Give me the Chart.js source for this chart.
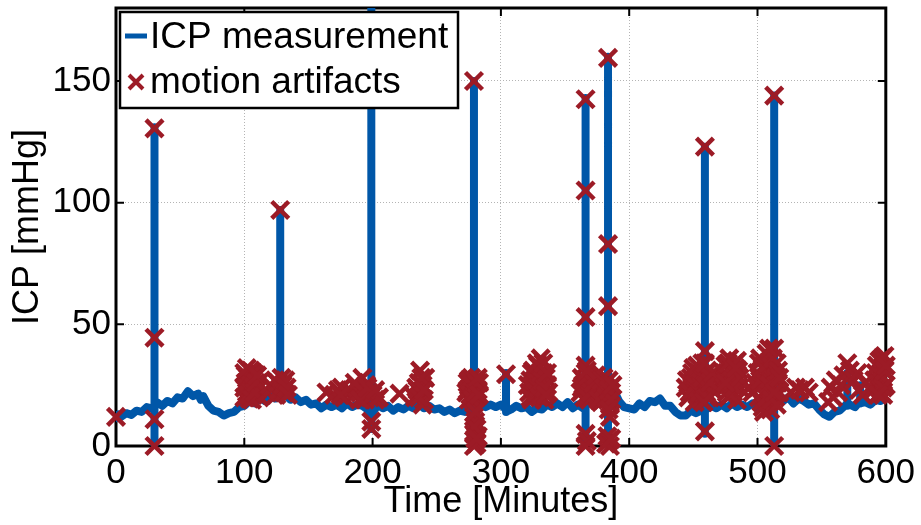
<!DOCTYPE html>
<html lang="en">
<head>
<meta charset="UTF-8">
<title>ICP measurement</title>
<script src="https://cdn.jsdelivr.net/npm/chart.js"></script>
<style>
    html, body { margin: 0; padding: 0; background: #fff; }
    .chart-box { width: 921px; height: 525px; }
</style>
</head>
<body>
<div class="chart-box">
    <canvas id="icpChart" width="921" height="525"></canvas>
</div>
<script>
    // ICP trace (minutes, mmHg); repeated times are the vertical spikes
    const timeMin = [
        0, 2, 4, 8, 12, 16, 20, 24, 28,
        30, 30, 30, 30,
        32, 36, 40, 44, 48, 52, 56, 60, 64, 66, 68, 72, 76, 80, 84, 88, 92, 96, 100, 104, 108, 112, 116, 120, 124, 128,
        128, 128,
        132, 136, 140, 144, 148, 152, 156, 160, 164, 168, 172, 176, 180, 184, 188, 192, 196, 199,
        199, 199, 199,
        200, 204, 208, 212, 216, 220, 224, 228, 232, 236, 240, 244, 248, 252, 256, 260, 264, 268, 272, 276, 279,
        279, 279, 279,
        280, 284, 288, 292, 296, 300, 304,
        304, 304,
        308, 312, 316, 320, 324, 328, 332, 336, 340, 344, 348, 352, 356, 360, 364, 366,
        366, 366, 366,
        368, 372, 376, 380, 383.5,
        383.5, 383.5, 383.5,
        388, 392, 396, 400, 404, 408, 412, 416, 420, 424, 428, 432, 436, 440, 444, 448, 452, 456, 459,
        459, 459, 459,
        460, 464, 468, 472, 476, 480, 484, 488, 492, 496, 500, 504, 508, 512, 513,
        513, 513, 513,
        516, 520, 524, 528, 532, 536, 540, 544, 548, 552, 556, 560, 564, 568, 570,
        570, 570,
        572, 576, 580,
        580, 580,
        584, 588, 592, 596, 600
    ];
    const icpMmHg = [
        11.5, 13, 12, 13.5, 12.8, 14.5, 14, 16, 15.5,
        16, 131, 0, 16,
        18, 16.5, 18.5, 17.5, 20, 19.5, 22.5, 20.5, 21.5, 19, 20.5, 16.5, 14.5, 14, 12.5, 13.5, 14, 16, 16.5, 18.5, 17.5, 20, 18.5, 20.5, 19.5, 20,
        97, 20,
        21, 19, 20, 18, 19, 17, 17.5, 15.5, 17, 16, 17, 15.5, 17.5, 16, 17, 16.5, 15, 13,
        190, 7, 13,
        13.5, 17, 15.5, 16.5, 14.5, 16, 15, 16.5, 15.5, 17.5, 15.5, 16.5, 15, 15.5, 14, 15, 13.5, 14.5, 14, 16.5, 17,
        150, 0, 17,
        17, 18, 16, 17, 16, 17, 15,
        30, 14,
        15, 16.5, 15.5, 16, 14, 15.5, 15, 17, 16, 17.5, 16, 18, 15.5, 17, 15.5, 16.5,
        143, 0, 17,
        18, 19.5, 19, 21, 20,
        160, 0, 21,
        23, 18.5, 16, 15.5, 15, 17.5, 16, 18.5, 18, 19.5, 16.5, 16.5, 14, 12.5, 12.5, 14.5, 13.5, 14.5, 14.5,
        123, 5, 15,
        15, 16.5, 15.5, 17, 15.5, 17.5, 16, 17, 16, 17.5, 15.5, 17.5, 17.5, 19.5, 19,
        144, 0, 19,
        19, 18.5, 20, 17.5, 19.5, 18.5, 17, 17.5, 15, 13, 12, 14, 14.5, 16.5, 16.5,
        30, 17,
        17, 16, 18.5,
        25, 17.5,
        18, 17, 19, 18.5, 20
    ];

    // motion artifact markers
    const artifactTime = [
        0, 30, 30, 30, 30,
        100, 101, 102, 100, 103, 104, 105, 106, 107, 108, 109, 104, 110, 111, 112,
        100, 101, 102, 103, 105, 106, 107, 108, 109, 110,
        118, 120, 122, 124, 125, 126, 127, 128, 129, 130, 131, 132, 133, 134,
        164, 170, 173, 176, 178, 180, 182, 185, 188, 190, 192, 194, 195, 197, 198, 200, 202, 205, 199, 199,
        186, 190, 196, 202, 175,
        221, 233, 235, 236, 237, 238, 239, 240, 241, 239, 234, 236, 238, 240,
        279, 273, 274, 275, 276, 277, 278, 279, 280, 281, 282, 283, 279, 280, 281, 279, 280, 281, 279, 282,
        274, 275, 276, 277, 278, 280, 281, 282, 283, 279, 280, 281,
        304,
        322, 323, 324, 325, 326, 327, 328, 329, 330, 331, 332, 333, 334, 335, 336, 337,
        321, 323, 324, 326, 327, 328, 329, 330, 331, 332, 333, 334, 335, 336,
        366, 366, 366, 366, 362, 363, 364, 365, 366, 367, 368, 369, 370, 371, 372, 373, 374, 375, 376, 377, 378, 379, 380, 381, 382, 383, 384, 385, 386,
        363, 365, 367, 368, 370, 372, 374, 376, 378, 380, 382, 384, 386, 387, 367, 385, 384,
        366, 367, 366, 383.5, 383.5, 383.5, 383, 384, 385, 382, 386,
        459, 459, 459, 444, 446, 448, 449, 450, 451, 452, 453, 454, 455, 456, 457, 458, 460, 461, 462, 463, 464, 465,
        445, 447, 449, 451, 453, 455, 457, 459, 460, 461, 463, 465, 459, 458,
        474, 475, 476, 477, 478, 479, 480, 481, 482, 483, 484, 485, 486,
        474, 476, 477, 479, 480, 482, 484, 486, 475, 483,
        493, 496, 498,
        513, 513, 513, 500, 501, 502, 503, 504, 505, 506, 507, 508, 509, 510, 511, 512, 514, 515, 516, 517, 505, 510,
        500, 501, 502, 503, 504, 506, 507, 508, 509, 511, 512, 514, 515, 516, 513, 517, 509,
        526, 530, 533, 537, 540,
        555, 557, 559, 561, 563, 565,
        567, 570, 572, 575, 578,
        579, 582, 584,
        590, 592, 594, 595, 596, 597, 598, 599, 600, 598,
        591, 593, 595, 596, 597, 598, 599, 600, 594
    ];
    const artifactIcp = [
        12, 130.5, 44.5, 11, 0,
        30, 26, 22, 20, 28, 24, 31, 27, 21, 25, 29, 19.5, 23, 26, 20,
        24, 29, 32, 21, 25, 19, 30, 22, 26, 29,
        22, 25, 24, 27, 21, 26, 23, 97, 28, 25, 22, 27, 24, 21,
        22, 21, 23, 24, 20, 22, 23, 21, 24, 22, 28, 19, 25, 22, 20, 21, 19, 20, 10, 7,
        26, 19, 24, 23, 21,
        21.5, 20, 23, 26, 31, 22, 25, 19, 28, 17, 24, 20, 28, 23,
        150, 22, 26, 19, 24, 28, 21, 25, 27, 20, 23, 26, 12, 10, 7, 5, 3, 1, 0, 4,
        23, 27, 21, 25, 19, 22, 26, 28, 21, 8, 14, 3,
        29.5,
        22, 27, 19, 31, 24, 29, 21, 33, 26, 36, 23, 30, 19, 28, 25, 22,
        25, 20, 30, 27, 22, 34, 24, 20, 30, 27, 34, 24, 21, 30,
        142.5, 105, 53, 33, 22, 28, 25, 20, 30, 26, 23, 19, 28, 25, 21, 27, 24, 20, 26, 22, 18, 25, 28, 21, 24, 19, 27, 17, 22,
        24, 27, 20, 29, 22, 26, 29, 19, 27, 24, 20, 23, 19, 25, 31, 12, 15,
        5, 2, 0, 159.5, 83, 57.5, 4, 2, 0, 1, 3,
        123, 39, 6, 24, 20, 28, 23, 32, 18, 26, 21, 30, 25, 19, 34, 27, 22, 31, 25, 20, 28, 23,
        27, 22, 30, 25, 33, 22, 28, 25, 30, 20, 26, 30, 34, 18,
        24, 33, 28, 20, 36, 25, 30, 22, 34, 27, 19, 31, 24,
        30, 22, 34, 21, 27, 24, 35, 28, 26, 32,
        24, 22, 26,
        144, 40, 0, 30, 20, 36, 25, 16, 33, 22, 38, 28, 18, 35, 24, 30, 20, 34, 26, 22, 14, 15,
        24, 34, 27, 18, 32, 26, 20, 34, 25, 19, 36, 28, 17, 31, 22, 28, 40,
        22, 24, 23, 24, 22,
        18, 24, 20, 27, 22, 25,
        29, 34, 31, 27, 30,
        23, 21, 26,
        23, 30, 26, 35, 22, 32, 28, 37, 25, 21,
        27, 33, 24, 29, 36, 24, 31, 33, 21
    ];

    const xTicks = [0, 100, 200, 300, 400, 500, 600];
    const yTicks = [0, 50, 100, 150];

    const BLUE = 'rgb(0, 87, 168)';
    const RED = 'rgb(156, 27, 38)';
    const FONT = '"Liberation Sans", Arial, Helvetica, sans-serif';

    const tracePoints = timeMin.map((t, i) => ({ x: t, y: icpMmHg[i] }));
    const artifactPoints = artifactTime.map((t, i) => ({ x: t, y: artifactIcp[i] }));

    // box, inward ticks, y tick labels, axis titles, legend
    const framePlugin = {
        id: 'frame',
        beforeDatasetsDraw(chart) {
            const { ctx, chartArea: a, scales } = chart;
            ctx.save();
            ctx.strokeStyle = '#000';
            ctx.lineWidth = 3;
            ctx.strokeRect(a.left, a.top, a.right - a.left, a.bottom - a.top);
            ctx.lineWidth = 2;
            ctx.beginPath();
            xTicks.slice(1, -1).forEach(v => {
                const px = scales.x.getPixelForValue(v);
                ctx.moveTo(px, a.bottom); ctx.lineTo(px, a.bottom - 8);
                ctx.moveTo(px, a.top); ctx.lineTo(px, a.top + 8);
            });
            yTicks.slice(1).forEach(v => {
                const py = scales.y.getPixelForValue(v);
                ctx.moveTo(a.left, py); ctx.lineTo(a.left + 8, py);
                ctx.moveTo(a.right, py); ctx.lineTo(a.right - 8, py);
            });
            ctx.stroke();

            ctx.fillStyle = '#000';
            ctx.font = '35px ' + FONT;
            ctx.textAlign = 'right';
            ctx.textBaseline = 'middle';
            yTicks.forEach(v => {
                ctx.fillText(String(v), a.left - 5, scales.y.getPixelForValue(v));
            });
            ctx.restore();
        },
        afterDraw(chart) {
            const { ctx, chartArea: a } = chart;
            ctx.save();
            ctx.fillStyle = '#000';
            ctx.font = '36px ' + FONT;
            ctx.textAlign = 'center';
            ctx.textBaseline = 'alphabetic';
            ctx.fillText('Time [Minutes]', (a.left + a.right) / 2, 512);

            ctx.translate(38, (a.top + a.bottom) / 2);
            ctx.rotate(-Math.PI / 2);
            ctx.fillText('ICP [mmHg]', 0, 0);
            ctx.restore();

            ctx.save();
            ctx.fillStyle = '#fff';
            ctx.fillRect(120, 12, 338, 96);
            ctx.strokeStyle = '#000';
            ctx.lineWidth = 2.5;
            ctx.strokeRect(120, 12, 338, 96);

            ctx.strokeStyle = BLUE;
            ctx.lineWidth = 5;
            ctx.beginPath();
            ctx.moveTo(125, 36); ctx.lineTo(147, 36);
            ctx.stroke();

            ctx.strokeStyle = RED;
            ctx.lineWidth = 4;
            ctx.beginPath();
            ctx.moveTo(129, 75); ctx.lineTo(143, 89);
            ctx.moveTo(143, 75); ctx.lineTo(129, 89);
            ctx.stroke();

            ctx.fillStyle = '#000';
            ctx.font = '37px ' + FONT;
            ctx.textAlign = 'left';
            ctx.textBaseline = 'middle';
            ctx.fillText('ICP measurement', 150, 38);
            ctx.fillText('motion artifacts', 150, 83);
            ctx.restore();
        }
    };

    function hideEdges(c, lo, hi) {
        const v = c.tick && c.tick.value;
        return (v === lo || v === hi) ? 'rgba(0,0,0,0)' : '#b4b4b4';
    }

    new Chart(document.getElementById('icpChart'), {
        type: 'scatter',
        data: {
            datasets: [
                {
                    label: 'motion artifacts',
                    data: artifactPoints,
                    pointStyle: 'crossRot',
                    pointRadius: 12,
                    pointBorderWidth: 4.5,
                    borderColor: RED,
                    backgroundColor: RED,
                    clip: false,
                    order: 1
                },
                {
                    label: 'ICP measurement',
                    data: tracePoints,
                    showLine: true,
                    borderColor: BLUE,
                    backgroundColor: BLUE,
                    borderWidth: 8,
                    borderJoinStyle: 'round',
                    borderCapStyle: 'round',
                    pointRadius: 0,
                    tension: 0,
                    order: 2
                }
            ]
        },
        options: {
            responsive: false,
            animation: false,
            events: [],
            layout: { autoPadding: false, padding: { left: 0, right: 34, top: 8, bottom: 0 } },
            plugins: {
                legend: { display: false },
                tooltip: { enabled: false }
            },
            scales: {
                x: {
                    type: 'linear',
                    min: 0,
                    max: 600,
                    afterBuildTicks: s => { s.ticks = xTicks.map(v => ({ value: v })); },
                    afterFit: s => { s.height = 79; },
                    grid: { drawTicks: false, lineWidth: 1, color: c => hideEdges(c, 0, 600) },
                    border: { display: false, dash: [1, 2] },
                    ticks: { color: '#000', padding: 6, maxRotation: 0, font: { size: 35, family: FONT } }
                },
                y: {
                    min: 0,
                    max: 180,
                    afterBuildTicks: s => { s.ticks = yTicks.map(v => ({ value: v })); },
                    afterFit: s => { s.width = 116; },
                    grid: { drawTicks: false, lineWidth: 1, color: c => hideEdges(c, 0, 180) },
                    border: { display: false, dash: [1, 2] },
                    ticks: { display: false }
                }
            }
        },
        plugins: [framePlugin]
    });
</script>
</body>
</html>
